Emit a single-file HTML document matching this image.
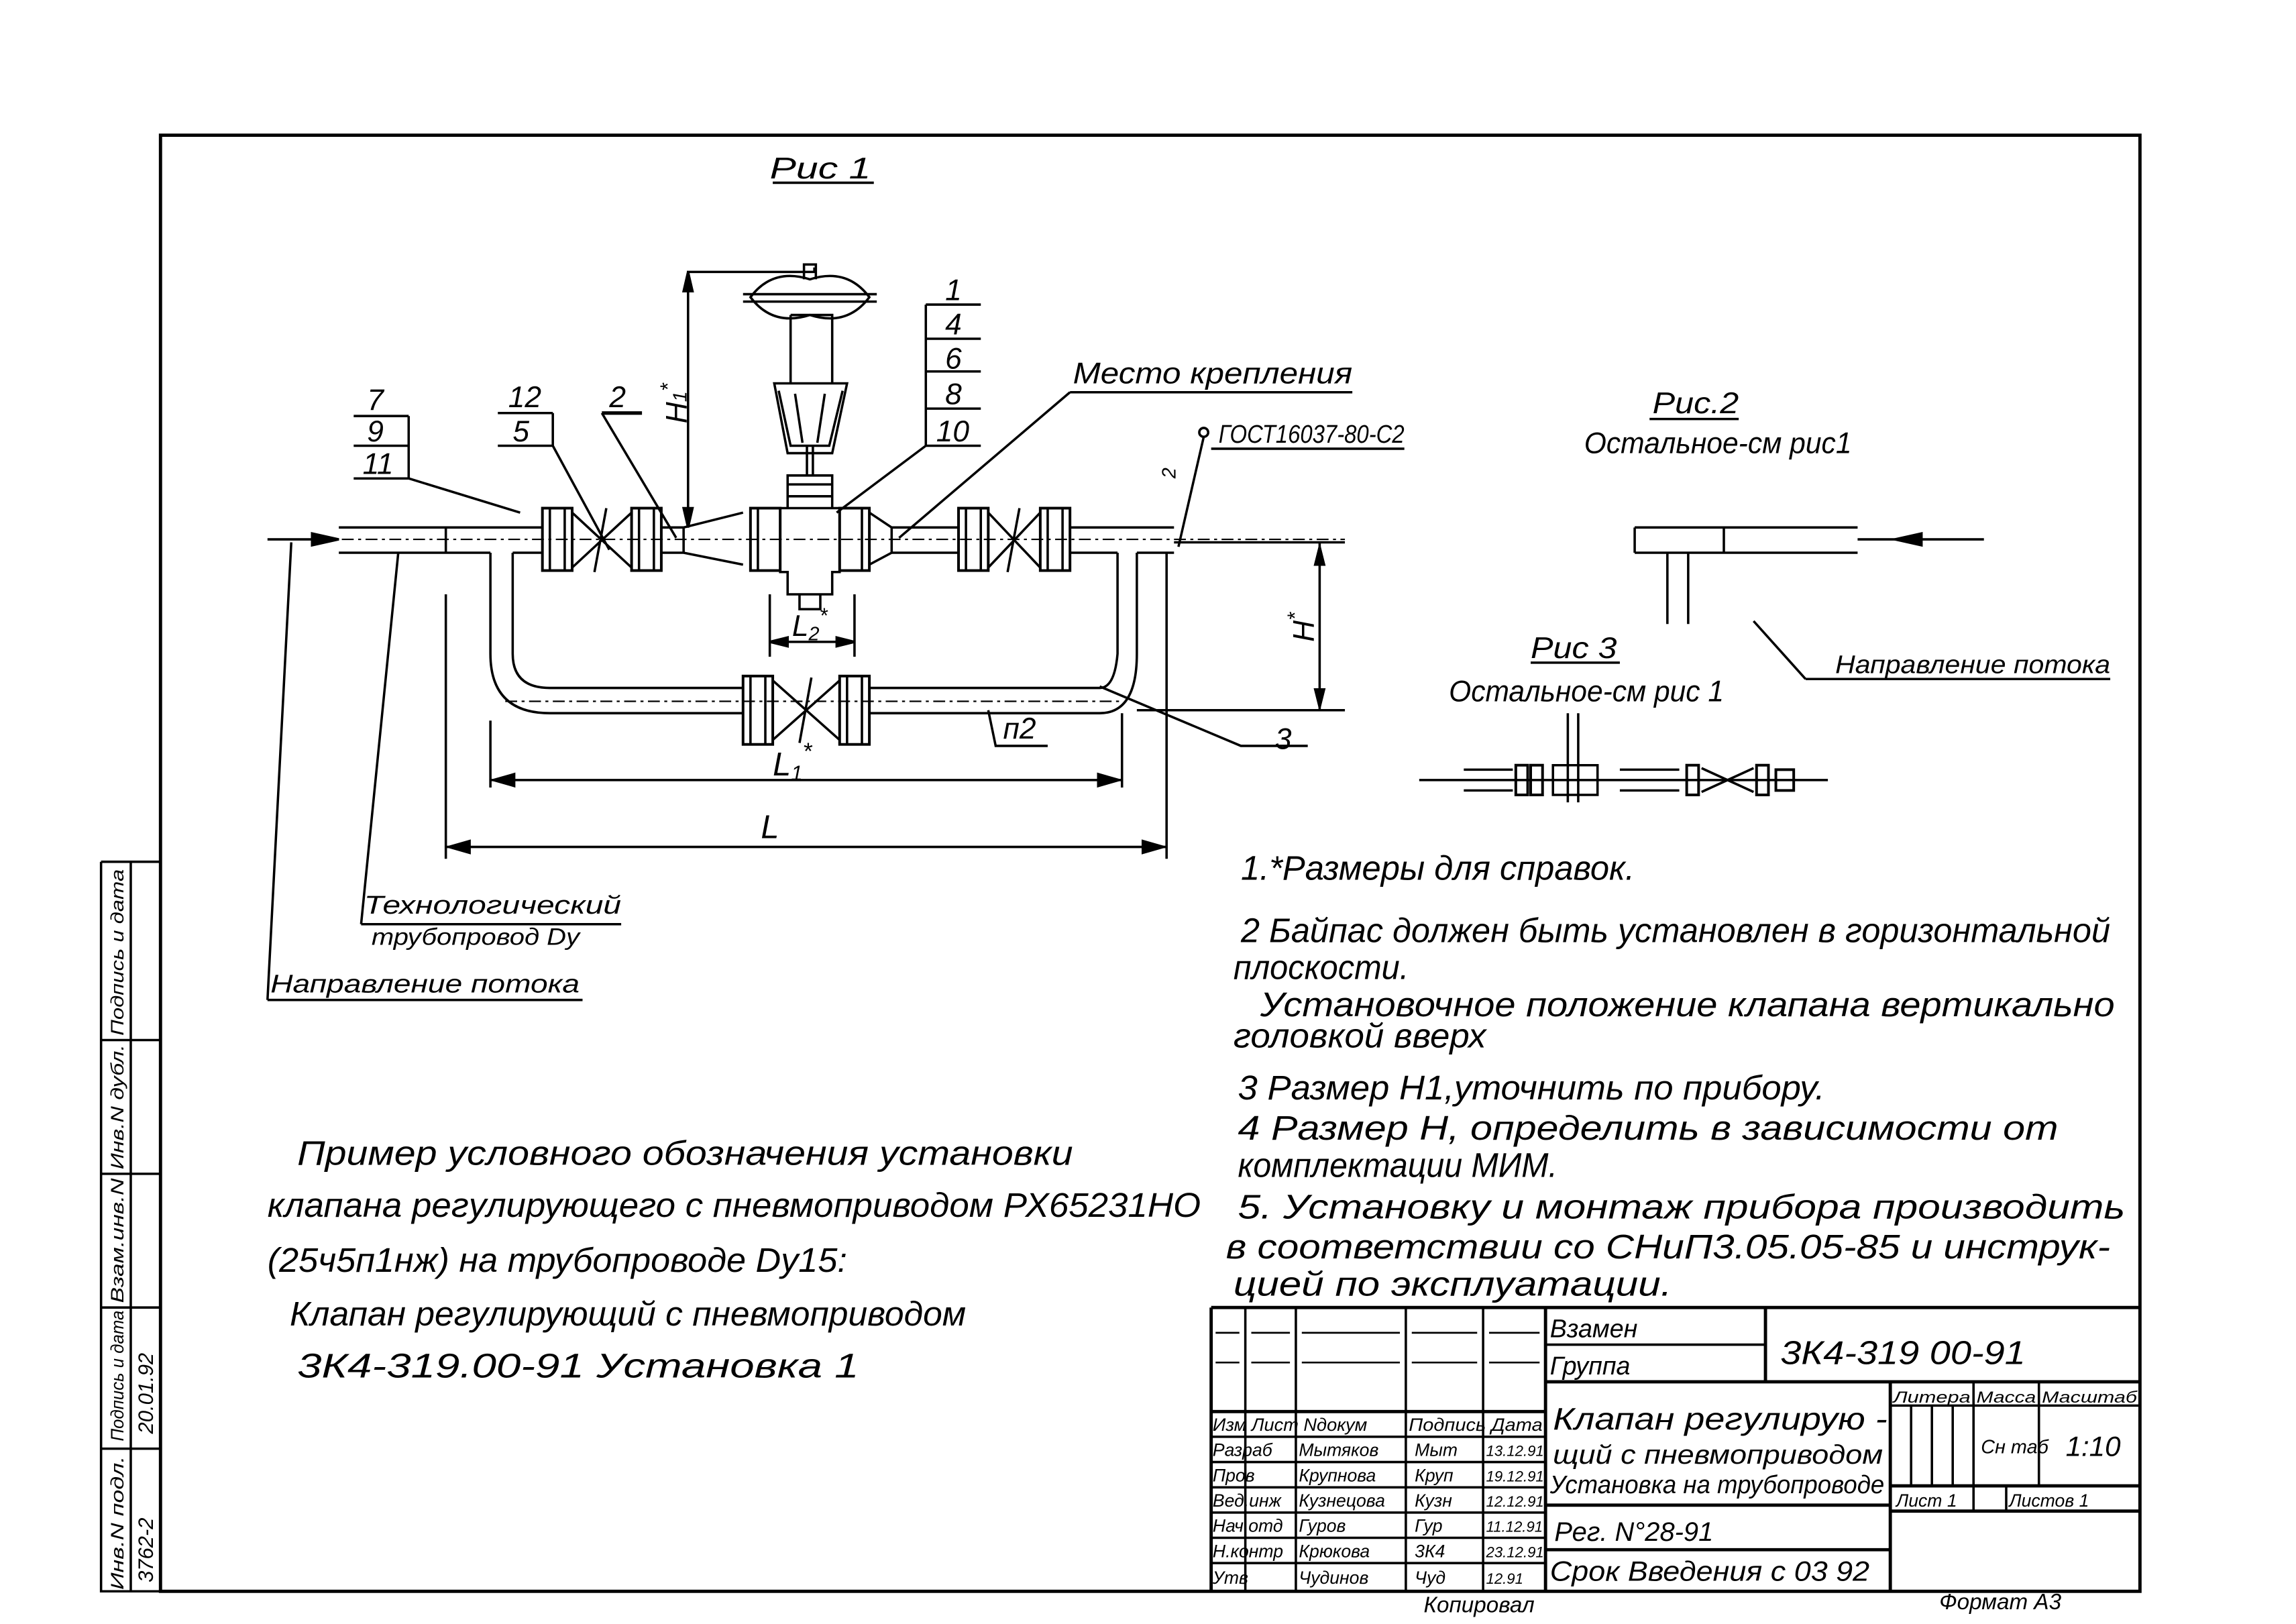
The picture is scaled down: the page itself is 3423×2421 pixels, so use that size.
<!DOCTYPE html>
<html><head><meta charset="utf-8"><style>
html,body{margin:0;padding:0;background:#fff}
svg{display:block}
text{font-family:"Liberation Sans",sans-serif;font-style:italic;fill:#000}
</style></head><body>
<svg width="3423" height="2421" viewBox="0 0 1545 1093" preserveAspectRatio="none" xmlns="http://www.w3.org/2000/svg">
<g fill="none" stroke="#000" stroke-width="1.6">
<!-- frame -->
<rect x="108" y="91" width="1332" height="980" stroke-width="2.2"/>
<!-- left strip -->
<path d="M68 580 V1071 H108 M88 580 V1071 M68 580 H108 M68 700 H108 M68 790 H108 M68 880 H108 M68 975 H108"/>
<!-- title block -->
<path stroke-width="2.2" d="M815 880 H1440 M815 880 V1071 M1040 880 V1071 M1040 930 H1440 M1188 880 V930 M1272 930 V1071 M1040 1013 H1272 M1272 1000 H1440 M1272 1017 H1440 M1040 1043 H1272 M815 950 H1040"/>
<path d="M838 880 V1071 M872 880 V1071 M946 880 V1071 M998 880 V1071 M1040 905 H1188 M1272 946 H1440 M1328 930 V1017 M1372 930 V1000 M1286 946 V1000 M1300 946 V1000 M1314 946 V1000 M1350 1000 V1017
M815 967 H1040 M815 984 H1040 M815 1001 H1040 M815 1018 H1040 M815 1035 H1040 M815 1052 H1040"/>
<path stroke-width="1.2" d="M818 897 H834 M842 897 H868 M876 897 H942 M950 897 H994 M1002 897 H1036 M818 917 H834 M842 917 H868 M876 917 H942 M950 917 H994 M1002 917 H1036"/>

<!-- main pipe -->
<path d="M180 363 H228"/>
<polygon points="228,363 210,359 210,367" fill="#000"/>
<path d="M228 355 H365 M228 372 H330 M345 372 H365 M300 355 V372 M330 372 V440 Q330 480 370 480 H500 M345 372 V440 Q345 463 370 463 H500
M585 463 H740 Q750 463 752 440 V372 M585 480 H740 Q765 480 765 440 V372 M765 372 H790 M720 355 H790 M752 372 H720"/>
<path d="M445 355 H460 L500 345 M445 372 H460 L500 380 M460 355 V372"/>
<path d="M585 345 L600 355 H640 L645 355 M585 380 L600 372 H645 M600 355 V372"/>
<path stroke-dasharray="8 3 2 3" stroke-width="1" d="M230 363 H905 M340 472 H755"/>
<!-- flanges -->
<g stroke-width="1.8">
<rect x="365" y="342" width="20" height="42"/><rect x="425" y="342" width="20" height="42"/>
<rect x="505" y="342" width="20" height="42"/><rect x="565" y="342" width="20" height="42"/>
<rect x="645" y="342" width="20" height="42"/><rect x="700" y="342" width="20" height="42"/>
<rect x="500" y="455" width="20" height="46"/><rect x="565" y="455" width="20" height="46"/>
</g>
<path d="M370 342 V384 M380 342 V384 M430 342 V384 M440 342 V384 M650 342 V384 M660 342 V384 M705 342 V384 M715 342 V384 M505 455 V501 M515 455 V501 M570 455 V501 M580 455 V501 M510 342 V384 M580 342 V384"/>
<path d="M385 345 L425 382 M385 382 L425 345 M665 345 L700 382 M665 382 L700 345 M520 458 L565 498 M520 498 L565 458 M400 385 L408 342 M678 385 L686 342 M538 500 L546 456"/>
<!-- valve body -->
<path d="M525 342 H565 V385 H560 V400 H530 V385 H525 Z M530 320 H560 V342 H530 Z M538 400 V410 H552 V400"/>
<path d="M530 326 H560 M530 334 H560"/>
<!-- actuator -->
<path d="M543 320 V300 M547 320 V300 M521 258 L530 305 H560 L570 258 Z M524 263 L532 300 H558 L567 263 M532 212 H560 V258 M532 212 V258 M535 265 L540 298 M555 265 L550 298"/>
<path d="M505 200 Q520 180 545 188 Q570 180 585 200 Q570 220 545 212 Q520 220 505 200 Z M500 198 H590 M500 203 H590 M541 188 V178 H549 V188"/>
<!-- H1 -->
<path d="M463 355 V183 H548 V180"/>
<polygon points="463,183 460,196 466,196" fill="#000"/><polygon points="463,355 460,342 466,342" fill="#000"/>
<!-- H -->
<path d="M790 365 H905 M765 478 H905 M888 365 V478"/>
<polygon points="888,368 885,380 891,380" fill="#000"/><polygon points="888,476 885,464 891,464" fill="#000"/>
<!-- L2 -->
<path d="M518 400 V442 M575 400 V442 M518 432 H575"/>
<polygon points="518,432 530,429 530,435" fill="#000"/><polygon points="575,432 563,429 563,435" fill="#000"/>
<!-- L1 -->
<path d="M330 485 V530 M755 480 V530 M330 525 H755"/>
<polygon points="332,525 346,521 346,529" fill="#000"/><polygon points="753,525 739,521 739,529" fill="#000"/>
<!-- L -->
<path d="M300 400 V578 M785 372 V578 M300 570 H785"/>
<polygon points="302,570 316,566 316,574" fill="#000"/><polygon points="783,570 769,566 769,574" fill="#000"/>
<!-- leaders -->
<path d="M238 280 H275 M238 300 H275 M238 322 H275 M275 280 V322 M275 322 L350 345"/>
<path d="M335 278 H372 M335 300 H372 M372 278 V300 M372 300 L410 370"/>
<path stroke-width="2.4" d="M405 278 H432"/><path d="M405 278 L455 362"/>
<path d="M623 205 H660 M623 228 H660 M623 250 H660 M623 275 H660 M623 300 H660 M623 205 V300 M623 300 L563 345"/>
<path d="M720 264 H910 M720 264 L605 362"/>
<circle cx="810" cy="291" r="3"/><path d="M815 302 H945 M810 294 L793 368"/>
<path d="M740 462 L835 502 H880 M665 478 L670 502 H705"/>
<path d="M243 622 H418 M243 622 L268 372 M180 673 H392 M180 673 L196 365"/>
<path d="M520 123 H588"/>
<!-- Рис 2 -->
<path d="M1110 282 H1170 M1100 355 H1250 M1100 372 H1250 M1100 355 V372 M1160 355 V372 M1122 372 V420 M1136 372 V420 M1250 363 H1335 M1215 457 H1420 M1215 457 L1180 418"/>
<polygon points="1275,363 1293,359 1293,367" fill="#000"/>
<!-- Рис 3 -->
<path d="M1030 446 H1090 M955 525 H1230 M985 518 H1018 M985 532 H1018 M1055 480 V540 M1062 480 V540 M1045 515 H1075 V535 H1045 Z M1090 518 H1130 M1090 532 H1130"/>
<g stroke-width="1.8"><rect x="1020" y="515" width="8" height="20"/><rect x="1030" y="515" width="8" height="20"/><rect x="1135" y="515" width="8" height="20"/><rect x="1182" y="515" width="8" height="20"/><rect x="1195" y="518" width="12" height="14"/></g>
<path d="M1145 517 L1180 533 M1145 533 L1180 517"/>
</g>

<!-- labels -->
<g font-size="20">
<text x="518" y="120" textLength="68" lengthAdjust="spacingAndGlyphs">Рис 1</text>
<text x="247" y="276">7</text><text x="247" y="297">9</text><text x="244" y="319">11</text>
<text x="342" y="274">12</text><text x="345" y="297">5</text><text x="410" y="274">2</text>
<text x="636" y="202">1</text><text x="636" y="225">4</text><text x="636" y="248">6</text><text x="636" y="272">8</text><text x="630" y="297">10</text>
<text x="722" y="258" textLength="188" lengthAdjust="spacingAndGlyphs">Место крепления</text>
<text x="820" y="298" font-size="17" textLength="125" lengthAdjust="spacingAndGlyphs">ГОСТ16037-80-С2</text>
<text x="858" y="504">3</text>
<text x="675" y="497">п2</text>
<text x="533" y="428">L<tspan font-size="13" dy="3">2</tspan><tspan dy="-12" font-size="14">*</tspan></text>
<text x="520" y="522" font-size="22">L<tspan font-size="14" dy="3">1</tspan><tspan dy="-14" font-size="16">*</tspan></text>
<text x="512" y="564" font-size="22">L</text>
<text x="0" y="0" transform="translate(462 285) rotate(-90)">Н<tspan font-size="13">1</tspan><tspan dy="-8" font-size="14">*</tspan></text>
<text x="0" y="0" transform="translate(884 432) rotate(-90)">Н<tspan dy="-8" font-size="14">*</tspan></text>
<text x="0" y="0" font-size="13" transform="translate(791 322) rotate(-90)">2</text>
<text x="245" y="615" font-size="17" textLength="173" lengthAdjust="spacingAndGlyphs">Технологический</text>
<text x="250" y="636" font-size="16" textLength="140" lengthAdjust="spacingAndGlyphs">трубопровод Dу</text>
<text x="182" y="668" font-size="17" textLength="208" lengthAdjust="spacingAndGlyphs">Направление потока</text>
<text x="1112" y="278" textLength="58" lengthAdjust="spacingAndGlyphs">Рис.2</text>
<text x="1066" y="305" textLength="180" lengthAdjust="spacingAndGlyphs">Остальное-см рис1</text>
<text x="1235" y="453" font-size="17" textLength="185" lengthAdjust="spacingAndGlyphs">Направление потока</text>
<text x="1030" y="443" textLength="58" lengthAdjust="spacingAndGlyphs">Рис 3</text>
<text x="975" y="472" textLength="185" lengthAdjust="spacingAndGlyphs">Остальное-см рис 1</text>
</g>
<!-- notes -->
<g font-size="23">
<text x="835" y="592" textLength="265" lengthAdjust="spacingAndGlyphs">1.*Размеры для справок.</text>
<text x="835" y="634" textLength="585" lengthAdjust="spacingAndGlyphs">2 Байпас должен быть установлен в горизонтальной</text>
<text x="830" y="659" textLength="118" lengthAdjust="spacingAndGlyphs">плоскости.</text>
<text x="848" y="684" textLength="575" lengthAdjust="spacingAndGlyphs">Установочное положение клапана вертикально</text>
<text x="830" y="705" textLength="170" lengthAdjust="spacingAndGlyphs">головкой вверх</text>
<text x="833" y="740" textLength="395" lengthAdjust="spacingAndGlyphs">3 Размер Н1,уточнить по прибору.</text>
<text x="833" y="767" textLength="552" lengthAdjust="spacingAndGlyphs">4 Размер Н, определить в зависимости от</text>
<text x="833" y="792" textLength="215" lengthAdjust="spacingAndGlyphs">комплектации МИМ.</text>
<text x="833" y="820" textLength="597" lengthAdjust="spacingAndGlyphs">5. Установку и монтаж прибора производить</text>
<text x="825" y="847" textLength="595" lengthAdjust="spacingAndGlyphs">в соответствии со СНиП3.05.05-85 и инструк-</text>
<text x="830" y="872" textLength="295" lengthAdjust="spacingAndGlyphs">цией по эксплуатации.</text>
<text x="200" y="784" textLength="522" lengthAdjust="spacingAndGlyphs">Пример условного обозначения установки</text>
<text x="180" y="819" textLength="628" lengthAdjust="spacingAndGlyphs">клапана регулирующего с пневмоприводом РХ65231НО</text>
<text x="180" y="856" textLength="390" lengthAdjust="spacingAndGlyphs">(25ч5п1нж) на трубопроводе Dу15:</text>
<text x="195" y="892" textLength="455" lengthAdjust="spacingAndGlyphs">Клапан регулирующий с пневмоприводом</text>
<text x="200" y="927" textLength="378" lengthAdjust="spacingAndGlyphs">3К4-319.00-91   Установка 1</text>
</g>
<!-- title block text -->
<g font-size="17">
<text x="1043" y="900">Взамен</text>
<text x="1043" y="925">Группа</text>
<text x="1198" y="918" font-size="22" textLength="165" lengthAdjust="spacingAndGlyphs">3К4-319 00-91</text>
<text x="1045" y="962" font-size="21" textLength="225" lengthAdjust="spacingAndGlyphs">Клапан регулирую -</text>
<text x="1045" y="985" font-size="18" textLength="222" lengthAdjust="spacingAndGlyphs">щий с пневмоприводом</text>
<text x="1043" y="1005" font-size="17" textLength="225" lengthAdjust="spacingAndGlyphs">Установка на трубопроводе</text>
<text x="1046" y="1037" font-size="18">Рег. N°28-91</text>
<text x="1043" y="1064" font-size="19" textLength="215" lengthAdjust="spacingAndGlyphs">Срок Введения с 03 92</text>
<text x="1274" y="944" font-size="11" textLength="52" lengthAdjust="spacingAndGlyphs">Литера</text>
<text x="1330" y="944" font-size="11" textLength="40" lengthAdjust="spacingAndGlyphs">Масса</text>
<text x="1374" y="944" font-size="11" textLength="64" lengthAdjust="spacingAndGlyphs">Масштаб</text>
<text x="1333" y="978" font-size="13">Сн таб</text>
<text x="1390" y="980" font-size="19">1:10</text>
<text x="1276" y="1014" font-size="12">Лист 1</text>
<text x="1352" y="1014" font-size="12">Листов 1</text>
</g>
<g font-size="12">
<text x="816" y="963" textLength="104" lengthAdjust="spacingAndGlyphs">Изм Лист  Nдокум</text>
<text x="948" y="963" textLength="90" lengthAdjust="spacingAndGlyphs">Подпись Дата</text>
<text x="816" y="980">Разраб</text><text x="874" y="980">Мытяков</text>
<text x="816" y="997">Пров</text><text x="874" y="997">Крупнова</text>
<text x="816" y="1014">Вед.инж</text><text x="874" y="1014">Кузнецова</text>
<text x="816" y="1031">Нач отд</text><text x="874" y="1031">Гуров</text>
<text x="816" y="1048">Н.контр</text><text x="874" y="1048">Крюкова</text>
<text x="816" y="1066">Утв</text><text x="874" y="1066">Чудинов</text>
<text x="1000" y="980" font-size="10">13.12.91</text><text x="1000" y="997" font-size="10">19.12.91</text>
<text x="1000" y="1014" font-size="10">12.12.91</text><text x="1000" y="1031" font-size="10">11.12.91</text>
<text x="1000" y="1048" font-size="10">23.12.91</text><text x="1000" y="1066" font-size="10">12.91</text>
<text x="952" y="980">Мыт</text><text x="952" y="997">Круп</text><text x="952" y="1014">Кузн</text><text x="952" y="1031">Гур</text><text x="952" y="1048">3К4</text><text x="952" y="1066">Чуд</text>
</g>
<text x="958" y="1085" font-size="15">Копировал</text>
<text x="1305" y="1083" font-size="15">Формат А3</text>
<!-- left strip text -->
<g font-size="12">
<text transform="translate(83 1070) rotate(-90)" textLength="90" lengthAdjust="spacingAndGlyphs">Инв.N подл.</text>
<text transform="translate(83 970) rotate(-90)" textLength="88" lengthAdjust="spacingAndGlyphs">Подпись и дата</text>
<text transform="translate(83 877) rotate(-90)" textLength="84" lengthAdjust="spacingAndGlyphs">Взам.инв.N</text>
<text transform="translate(83 787) rotate(-90)" textLength="84" lengthAdjust="spacingAndGlyphs">Инв.N дубл.</text>
<text transform="translate(83 697) rotate(-90)" textLength="112" lengthAdjust="spacingAndGlyphs">Подпись и дата</text>
<text transform="translate(103 1065) rotate(-90)" font-size="14">3762-2</text>
<text transform="translate(103 965) rotate(-90)" font-size="14">20.01.92</text>
</g>
</svg>
</body></html>
